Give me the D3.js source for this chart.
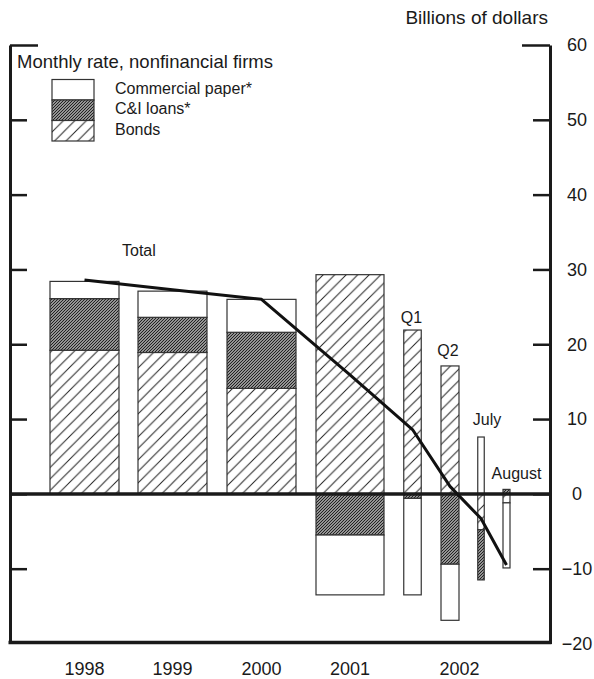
<!DOCTYPE html>
<meta charset="utf-8">
<style>
    body { margin: 0; background: #fff; }
    text {
        font-family: "Liberation Sans", Arial, sans-serif;
        fill: #1a1a1a;
    }
    .bar rect {
        stroke: #333;
        stroke-width: 1.2px;
    }
    .frame line, .axis .domain {
        stroke: #1a1a1a;
        stroke-width: 3px;
    }
    .axis .tick line {
        stroke: #1a1a1a;
        stroke-width: 2.5px;
    }
</style>
<svg width="594" height="679"></svg>
<script src="https://d3js.org/d3.v7.min.js"></script>
<script>
    // values (billions of dollars, monthly rate)
    var periods = ["1998", "1999", "2000", "2001", "Q1", "Q2", "July", "August"];
    var bonds = [19.2, 18.9, 14.1, 29.3, 21.9, 17.1, -4.8, -1.2];
    var cniLoans = [6.9, 4.7, 7.5, -5.5, -0.6, -9.4, -6.7, 0.6];
    var commPaper = [2.3, 3.5, 4.4, -8.0, -12.9, -7.5, 7.6, -8.7];
    var totals = [28.6, 27.3, 26.0, 15.9, 8.6, 1.0, -3.3, -9.5];

    var yearLabels = ["1998", "1999", "2000", "2001", "2002"];
    var yTicks = [-20, -10, 0, 10, 20, 30, 40, 50, 60];
    var seriesKeys = ["cp", "cni", "bonds"];
    var seriesNames = ["Commercial paper*", "C&I loans*", "Bonds"];

    var svg = d3.select("svg"),
        left = 10,
        right = 550;

    var y = d3.scaleLinear().domain([-20, 60]).range([643.5, 45]);

    // bar centres and widths: annual bars, then the quarters and months of 2002
    var x = d3.scaleOrdinal().domain(periods)
        .range([84.5, 172.5, 261.5, 350, 412.5, 450, 481, 506.5]);
    var barW = d3.scaleOrdinal().domain(periods)
        .range([69, 69, 69, 68, 17.5, 18, 6.5, 7]);

    var rows = periods.map(function(p, i) {
        return { period: p, bonds: bonds[i], cni: cniLoans[i], cp: commPaper[i], total: totals[i] };
    });

    var stacked = d3.stack()
        .keys(["bonds", "cni", "cp"])
        .offset(d3.stackOffsetDiverging)(rows);

    // hatch patterns
    var defs = svg.append("defs");
    function hatch(id, size, width) {
        var p = defs.append("pattern")
            .attr("id", id)
            .attr("patternUnits", "userSpaceOnUse")
            .attr("width", size)
            .attr("height", size);
        p.append("rect").attr("width", size).attr("height", size).attr("fill", "#fff");
        p.append("path")
            .attr("d", "M0," + size + "L" + size + ",0M-1,1L1,-1M" + (size - 1) + "," + (size + 1) + "L" + (size + 1) + "," + (size - 1))
            .attr("stroke", "#222")
            .attr("stroke-width", width);
    }
    hatch("bondsHatch", 11.5, 1);
    hatch("cniHatch", 3, 1.4);

    var fill = d3.scaleOrdinal()
        .domain(["bonds", "cni", "cp"])
        .range(["url(#bondsHatch)", "url(#cniHatch)", "#fff"]);

    // bars
    svg.append("g")
        .attr("class", "bar")
        .selectAll("g")
        .data(stacked)
        .enter().append("g")
        .attr("fill", function(d) { return fill(d.key); })
        .selectAll("rect")
        .data(function(d) { return d; })
        .enter().append("rect")
        .attr("x", function(d) { return x(d.data.period) - barW(d.data.period) / 2; })
        .attr("width", function(d) { return barW(d.data.period); })
        .attr("y", function(d) { return y(Math.max(d[0], d[1])); })
        .attr("height", function(d) { return Math.abs(y(d[0]) - y(d[1])); });

    // axes
    var axisLeftG = svg.append("g")
        .attr("class", "axis")
        .attr("transform", "translate(" + left + ",0)")
        .call(d3.axisRight(y).tickValues(yTicks.slice(1)).tickSize(17).tickSizeOuter(0).tickFormat(""));

    var axisRightG = svg.append("g")
        .attr("class", "axis")
        .attr("transform", "translate(" + right + ",0)")
        .call(d3.axisRight(y).tickValues(yTicks).tickSize(-17).tickSizeOuter(0).tickPadding(27));

    axisRightG.selectAll(".tick text")
        .attr("text-anchor", "middle")
        .attr("fill", "#1a1a1a")
        .style("font-size", "18px")
        .style("font-family", "Liberation Sans, Arial, sans-serif");
    axisRightG.selectAll(".tick line")
        .filter(function(d) { return d === -20; })
        .remove();
    [axisLeftG, axisRightG].forEach(function(g) {
        g.selectAll(".tick line")
            .filter(function(d) { return d === 60; })
            .attr("x2", g === axisLeftG ? 28 : -28);
    });
    svg.selectAll(".axis .domain").attr("stroke-width", 3);

    // zero line and bottom frame
    var frame = svg.append("g").attr("class", "frame");
    frame.append("line")
        .attr("x1", left).attr("x2", right)
        .attr("y1", y(0)).attr("y2", y(0))
        .style("stroke-width", "3.5px");
    frame.append("line")
        .attr("x1", left - 1.5).attr("x2", right + 1.5)
        .attr("y1", y(-20) - 1).attr("y2", y(-20) - 1)
        .style("stroke-width", "3.5px");

    // total line
    var line = d3.line()
        .x(function(d) { return x(d.period); })
        .y(function(d) { return y(d.total); });

    svg.append("path")
        .datum(rows)
        .attr("d", line)
        .attr("fill", "none")
        .attr("stroke", "#111")
        .attr("stroke-width", 3)
        .attr("stroke-linejoin", "round");

    // period labels above the 2002 bars
    var labelDx = { Q1: -1, Q2: -2, July: 6, August: 10 };
    var labelDy = { Q1: 7, Q2: 10, July: 12, August: 10 };
    svg.append("g")
        .selectAll("text")
        .data(rows.filter(function(d) { return labelDx[d.period] !== undefined; }))
        .enter().append("text")
        .attr("x", function(d) { return x(d.period) + labelDx[d.period]; })
        .attr("y", function(d) {
            var top = Math.max(0, d.bonds) + Math.max(0, d.cni) + Math.max(0, d.cp);
            return y(top) - labelDy[d.period];
        })
        .attr("text-anchor", "middle")
        .style("font-size", "16px")
        .text(function(d) { return d.period; });

    svg.append("text")
        .attr("x", 122).attr("y", 256)
        .style("font-size", "16px")
        .text("Total");

    // year labels along the bottom
    var yearX = yearLabels.map(function(yr) {
        if (yr !== "2002") return x(yr);
        return (x("Q1") + x("August")) / 2;
    });
    svg.append("g")
        .selectAll("text")
        .data(yearLabels)
        .enter().append("text")
        .attr("x", function(d, i) { return yearX[i]; })
        .attr("y", 675)
        .attr("text-anchor", "middle")
        .style("font-size", "18px")
        .text(function(d) { return d; });

    // titles
    svg.append("text")
        .attr("x", 548).attr("y", 24)
        .attr("text-anchor", "end")
        .style("font-size", "19px")
        .text("Billions of dollars");

    svg.append("text")
        .attr("x", 17).attr("y", 68)
        .style("font-size", "18.5px")
        .text("Monthly rate, nonfinancial firms");

    // legend
    var legend = svg.append("g")
        .attr("class", "bar")
        .selectAll("g")
        .data(seriesKeys)
        .enter().append("g")
        .attr("transform", function(d, i) { return "translate(52," + (79.5 + i * 20.5) + ")"; });

    legend.append("rect")
        .attr("width", 42)
        .attr("height", 20.5)
        .attr("fill", function(d) { return fill(d); });

    legend.append("text")
        .attr("x", 63)
        .attr("y", 14)
        .style("font-size", "16px")
        .text(function(d, i) { return seriesNames[i]; });
</script>
